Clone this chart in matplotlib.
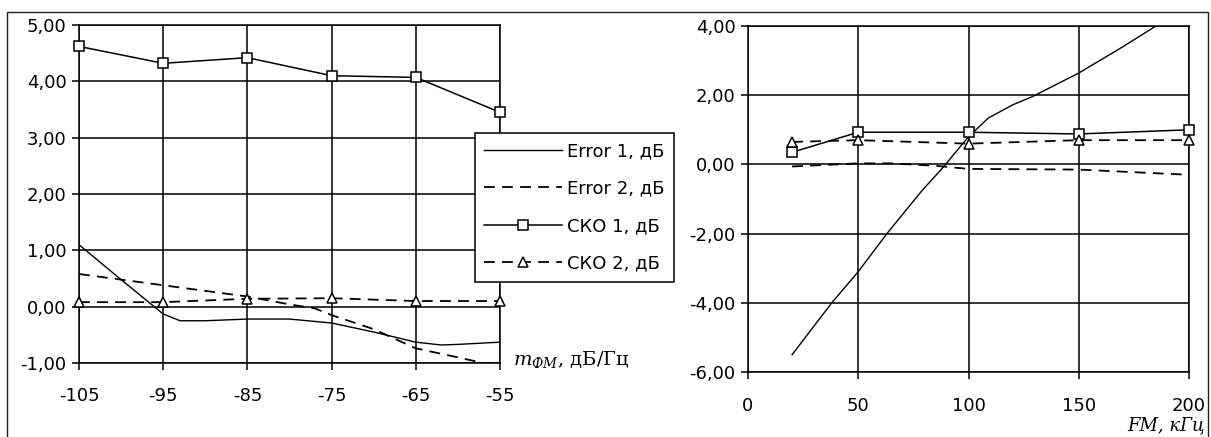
import matplotlib
matplotlib.use('Agg')
import matplotlib.pyplot as plt
from matplotlib.patches import Rectangle
from matplotlib.ticker import FuncFormatter

plt.rcParams['font.family'] = ['DejaVu Sans']
plt.rcParams['axes.unicode_minus'] = False
plt.rcParams['mathtext.fontset'] = 'dejavuserif'

# левый график: зависимость от m_ФМ
x_left = [-105, -95, -85, -75, -65, -55]
sko1_left = [4.62, 4.32, 4.42, 4.10, 4.07, 3.45]
sko2_left = [0.08, 0.08, 0.14, 0.15, 0.10, 0.10]
err1_left_x = [-105, -100, -95, -93, -90, -85, -80, -75, -70, -65, -62, -60, -55]
err1_left = [1.10, 0.48, -0.13, -0.25, -0.25, -0.22, -0.22, -0.29, -0.45, -0.63, -0.68, -0.67, -0.63]
err2_left_x = [-105, -95, -85, -80, -77, -75, -70, -65, -60, -57, -55]
err2_left = [0.58, 0.38, 0.18, 0.04, -0.03, -0.15, -0.40, -0.74, -0.90, -1.00, -1.00]

# правый график: зависимость от FM
x_right = [20, 50, 100, 150, 200]
sko1_right = [0.35, 0.93, 0.93, 0.88, 1.00]
sko2_right = [0.65, 0.70, 0.60, 0.70, 0.70]
err1_right_x = [20, 38, 50, 63, 79, 88, 100, 109, 120, 129, 150, 170, 190]
err1_right = [-5.5, -4.0, -3.1, -2.0, -0.75, -0.12, 0.8, 1.34, 1.72, 1.96, 2.64, 3.4, 4.2]
err2_right_x = [20, 50, 65, 85, 100, 150, 200]
err2_right = [-0.06, 0.03, 0.03, -0.04, -0.13, -0.15, -0.30]

labels = ['Error 1, дБ', 'Error 2, дБ', 'СКО 1, дБ', 'СКО 2, дБ']

W, H = 1211, 437
fig = plt.figure(figsize=(W / 100, H / 100), dpi=100)

# рамка вокруг всей диаграммы
fig.patches.append(Rectangle((7 / W, -0.05), 1201 / W, 1.05 - 12 / H,
                             transform=fig.transFigure, fill=False,
                             edgecolor='#222222', lw=1.0))

ax1 = fig.add_axes([79 / W, 1 - 363 / H, 421 / W, 338 / H])
ax2 = fig.add_axes([748 / W, 1 - 372 / H, 441 / W, 346 / H])

dash = (6, 4)
comma = FuncFormatter(lambda v, p: f'{v:.2f}'.replace('.', ','))


def draw(ax, ex, e1, e2x, e2, x, s1, s2):
    h1, = ax.plot(ex, e1, color='black', lw=1.0)
    h2, = ax.plot(e2x, e2, color='black', lw=1.3, dashes=dash)
    h3, = ax.plot(x, s1, color='black', lw=1.1, marker='s', ms=7,
                  mfc='white', mec='black', mew=1.1, clip_on=False, zorder=4)
    h4, = ax.plot(x, s2, color='black', lw=1.3, dashes=dash, marker='^', ms=7,
                  mfc='white', mec='black', mew=1.1, clip_on=False, zorder=4)
    ax.grid(True, color='black', lw=1.1)
    ax.set_axisbelow(True)
    for s in ax.spines.values():
        s.set_linewidth(1.1)
    ax.tick_params(direction='out', length=5, width=1.1, labelsize=13, pad=4)
    ax.yaxis.set_major_formatter(comma)
    return [h1, h2, h3, h4]


handles = draw(ax1, err1_left_x, err1_left, err2_left_x, err2_left, x_left, sko1_left, sko2_left)
ax1.set_xlim(-105, -55)
ax1.set_ylim(-1, 5)
ax1.set_xticks(x_left)
ax1.tick_params(axis='x', pad=12)

draw(ax2, err1_right_x, err1_right, err2_right_x, err2_right, x_right, sko1_right, sko2_right)
ax2.set_xlim(0, 200)
ax2.set_ylim(-6, 4)
ax2.set_xticks([0, 50, 100, 150, 200])
ax2.set_yticks([-6, -4, -2, 0, 2, 4])
ax2.tick_params(axis='x', pad=13)

fig.text(513 / W, 1 - 360 / H, r'$m_{ФМ}$, дБ/Гц', fontsize=14,
         family='DejaVu Serif', va='center', ha='left')
fig.text(1205 / W, 1 - 425 / H, 'FM, кГц', fontsize=13, family='DejaVu Serif',
         style='italic', va='center', ha='right')

leg = fig.legend(handles, labels, loc='upper left',
                 bbox_to_anchor=(475 / W, 1 - 133 / H), borderaxespad=0,
                 fancybox=False, edgecolor='black', framealpha=1, fontsize=13,
                 handlelength=4.3, handletextpad=0.3, borderpad=0.5,
                 labelspacing=1.08)
leg.get_frame().set_linewidth(1.1)

fig.savefig('out.png', dpi=100)
